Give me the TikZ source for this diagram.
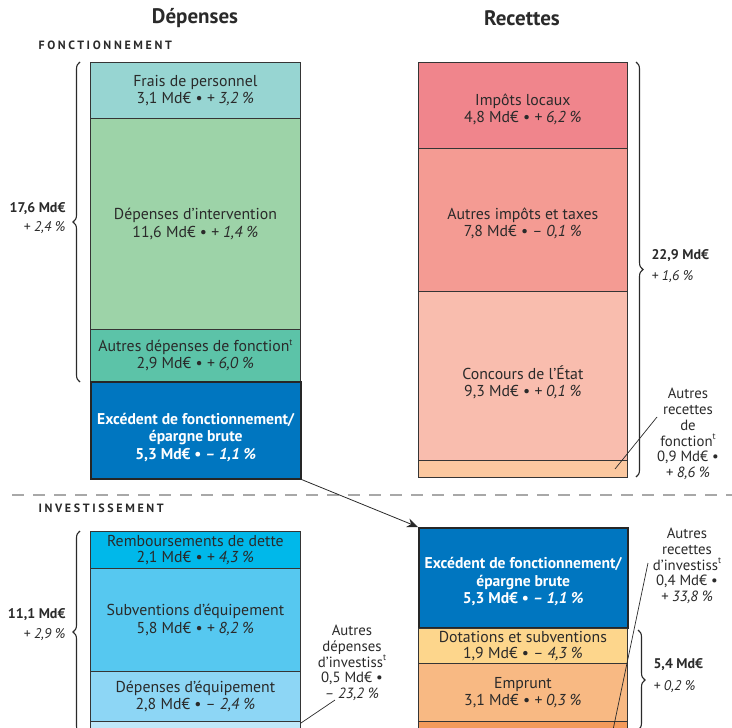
\documentclass[tikz,border=0pt]{standalone}
\usepackage{fontspec}
\setmainfont{PT Sans}
\usetikzlibrary{decorations.pathreplacing,arrows.meta}
\newcommand\mysupt{\raisebox{0.42em}{\fontsize{9}{9}\selectfont t}}
\newcommand\lowered[2]{\raisebox{-#1}[\height][\depth]{\begin{tabular}{@{}c@{}}#2\end{tabular}}}
\definecolor{boxline}{HTML}{353535}
\definecolor{cFrais}{HTML}{97D5D2}
\definecolor{cInterv}{HTML}{9DD3A8}
\definecolor{cAutresDep}{HTML}{5CC3A8}
\definecolor{cExc}{HTML}{0076C0}
\definecolor{cImpots}{HTML}{F0858C}
\definecolor{cAutImp}{HTML}{F49B93}
\definecolor{cConc}{HTML}{F9BDAE}
\definecolor{cAutRec}{HTML}{FBC8A0}
\definecolor{cRemb}{HTML}{00B8EA}
\definecolor{cSubv}{HTML}{56C8F0}
\definecolor{cDepEq}{HTML}{8DD6F5}
\definecolor{cLight}{HTML}{C0E8F9}
\definecolor{cDot}{HTML}{FDD68C}
\definecolor{cEmpr}{HTML}{F8B983}
\definecolor{cDark}{HTML}{F39A5B}
\definecolor{dashgray}{HTML}{A8A8A8}
\definecolor{txt}{HTML}{2A2A2A}
\tikzset{
  box/.style={draw=boxline, line width=0.8pt, anchor=north west, inner sep=0pt,
    align=center, text=txt, font=\fontsize{15.8}{17.2}\selectfont},
  lbox/.style={box, minimum width=210pt},
  rbox/.style={box, minimum width=209pt},
  excbox/.style={line width=1.5pt, draw=black!85, fill=cExc, text=white,
    font=\fontsize{15.6}{17.6}\selectfont\bfseries},
  head/.style={font=\fontsize{21}{24}\selectfont\bfseries, text=txt},
  section/.style={anchor=west, text=txt,
    font=\fontsize{12}{14}\selectfont\bfseries\addfontfeatures{LetterSpace=22}},
  totl/.style={anchor=east, text=txt, font=\fontsize{14}{16}\selectfont},
  totr/.style={anchor=west, text=txt, font=\fontsize{14}{16}\selectfont},
  anno/.style={align=center, text=txt, font=\fontsize{14.8}{15.8}\selectfont},
  bracel/.style={decorate, decoration={brace, amplitude=7pt}, line width=1.1pt, draw=txt},
  leader/.style={line width=0.7pt, draw=txt},
  dashline/.style={draw=dashgray, line width=2pt, dash pattern=on 12pt off 9pt}
}
\begin{document}
\begin{tikzpicture}[x=1pt, y=-1pt]
\useasboundingbox (0,0) rectangle (732,728);
\clip (0,0) rectangle (732,728);

% headers
\node[head] (hDep) at (195,18) {Dépenses};
\node[head] (hRec) at (522,18) {Recettes};
\node[section] (sFonc) at (35,45) {FONCTIONNEMENT};
\node[section] (sInv) at (35,508) {INVESTISSEMENT};

% left fonctionnement
\node[lbox, fill=cFrais, minimum height=56pt] (frais) at (90,62)
  {Frais de personnel\\3,1 Md€ • \textit{+ 3,2 \%}};
\node[lbox, fill=cInterv, minimum height=211pt] (interv) at (90,118)
  {Dépenses d’intervention\\11,6 Md€ • \textit{+ 1,4 \%}};
\node[lbox, fill=cAutresDep, minimum height=52pt] (autdep) at (90,329)
  {Autres dépenses de fonction\mysupt\\2,9 Md€ • \textit{+ 6,0 \%}};
\node[lbox, excbox, minimum height=97pt] (excL) at (90,381)
  {\lowered{8pt}{Excédent de fonctionnement/\\épargne brute\\5,3 Md€ • \textit{– 1,1 \%}}};

% right fonctionnement
\node[rbox, fill=cImpots, minimum height=86pt] (impots) at (418,62)
  {\lowered{5pt}{Impôts locaux\\4,8 Md€ • \textit{+ 6,2 \%}}};
\node[rbox, fill=cAutImp, minimum height=143pt] (autimp) at (418,148)
  {\lowered{5pt}{Autres impôts et taxes\\7,8 Md€ • \textit{– 0,1 \%}}};
\node[rbox, fill=cConc, minimum height=169pt] (conc) at (418,291)
  {\lowered{8pt}{Concours de l’État\\9,3 Md€ • \textit{+ 0,1 \%}}};
\node[rbox, fill=cAutRec, minimum height=17pt] (autrec) at (418,460) {};

% braces fonctionnement
\coordinate (bl1) at (80,382); \coordinate (bl2) at (80,62);
\draw[bracel] (bl1) -- (bl2);
\node[totl] (t1a) at (69,209) {\textbf{17,6 Md€}};
\node[totl] (t1b) at (69,228) {\textit{+ 2,4 \%}};
\coordinate (br1) at (636,62); \coordinate (br2) at (636,477);
\draw[bracel] (br1) -- (br2);
\node[totr] (t2a) at (648,256) {\textbf{22,9 Md€}};
\node[totr] (t2b) at (648,277) {\textit{+ 1,6 \%}};

% annotation autres recettes de fonction
\node[anno] (annoF) at (688,434)
  {Autres\\recettes\\de\\fonction\mysupt\\0,9 Md€ •\\\textit{+ 8,6 \%}};
\coordinate (lf1) at (657,417); \coordinate (lf2) at (615,469);
\draw[leader] (lf1) -- (lf2);

% dashed separator
\coordinate (d1) at (12,495); \coordinate (d2) at (740,495);
\draw[dashline] (d1) -- (d2);

% left investissement
\node[lbox, fill=cRemb, minimum height=37pt, font=\fontsize{15.8}{16}\selectfont] (remb) at (90,531)
  {Remboursements de dette\\2,1 Md€ • \textit{+ 4,3 \%}};
\node[lbox, fill=cSubv, minimum height=103pt] (subv) at (90,568)
  {Subventions d’équipement\\5,8 Md€ • \textit{+ 8,2 \%}};
\node[lbox, fill=cDepEq, minimum height=50pt] (depeq) at (90,671)
  {Dépenses d’équipement\\2,8 Md€ • \textit{– 2,4 \%}};
\node[lbox, fill=cLight, minimum height=40pt] (autinv) at (90,721) {};

% right investissement
\node[rbox, excbox, minimum height=100pt] (excR) at (418,527)
  {\lowered{5pt}{Excédent de fonctionnement/\\épargne brute\\5,3 Md€ • \textit{– 1,1 \%}}};
\node[rbox, fill=cDot, minimum height=35pt, font=\fontsize{15.8}{16.5}\selectfont] (dot) at (418,628)
  {Dotations et subventions\\1,9 Md€ • \textit{– 4,3 \%}};
\node[rbox, fill=cEmpr, minimum height=58pt] (empr) at (418,663)
  {Emprunt\\3,1 Md€ • \textit{+ 0,3 \%}};
\node[rbox, fill=cDark, minimum height=40pt] (autrecinv) at (418,721) {};

% arrow
\draw[line width=0.8pt, draw=txt, -{Stealth[length=11pt,width=9pt]}] (excL.south east) -- (excR.north west);

% braces investissement
\coordinate (bl3) at (80,733); \coordinate (bl4) at (80,531);
\draw[bracel] (bl3) -- (bl4);
\node[totl] (t3a) at (69,615) {\textbf{11,1 Md€}};
\node[totl] (t3b) at (69,635) {\textit{+ 2,9 \%}};
\coordinate (br3) at (638,630); \coordinate (br4) at (638,730);
\draw[bracel] (br3) -- (br4);
\node[totr] (t4a) at (650,665) {\textbf{5,4 Md€}};
\node[totr] (t4b) at (650,687) {\textit{+ 0,2 \%}};

% annotations investissement
\node[anno] (annoDI) at (352,663)
  {Autres\\dépenses\\d’investiss\mysupt\\0,5 Md€ •\\\textit{– 23,2 \%}};
\coordinate (ld1) at (335,700); \coordinate (ld2) at (301,723);
\draw[leader] (ld1) -- (ld2);
\node[anno] (annoRI) at (687,566)
  {Autres\\recettes\\d’investiss\mysupt\\0,4 Md€ •\\\textit{+ 33,8 \%}};
\coordinate (lr1) at (648,563); \coordinate (lr2) at (613,730);
\draw[leader] (lr1) -- (lr2);
\end{tikzpicture}
\end{document}
